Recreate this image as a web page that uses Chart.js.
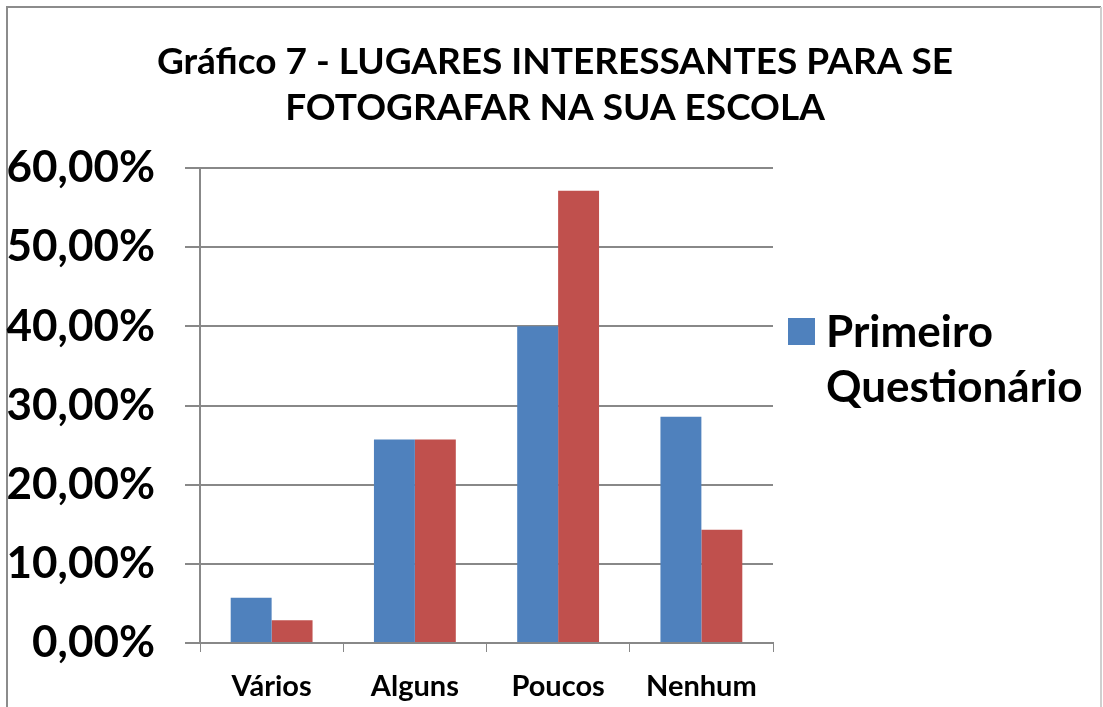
<!DOCTYPE html>
<html>
<head>
<meta charset="utf-8">
<script src="https://cdn.jsdelivr.net/npm/chart.js@4.4.0/dist/chart.umd.min.js"></script>
<style>
  html, body { margin: 0; padding: 0; background: #fff; }
  #wrap { width: 1103px; height: 707px; position: relative; }
</style>
</head>
<body>
<div id="wrap"><canvas id="grafico"></canvas></div>
<script>
// data
const categorias = ['Vários', 'Alguns', 'Poucos', 'Nenhum'];
const primeiroQuestionario = [5.71, 25.71, 40.00, 28.57];
const segundoQuestionario = [2.86, 25.71, 57.14, 14.29];
const tituloLinhas = ['Gráfico 7 - LUGARES INTERESSANTES PARA SE', 'FOTOGRAFAR NA SUA ESCOLA'];
const legendaLinhas = ['Primeiro', 'Questionário'];

const FONT = 'Lato, "Open Sans", sans-serif';

// frame like the spreadsheet chart area (left/top/right only)
const moldura = {
  id: 'moldura',
  beforeDraw(chart) {
    const c = chart.ctx;
    c.save();
    c.strokeStyle = '#8c8c8c';
    c.lineWidth = 2;
    c.beginPath();
    c.moveTo(7, 707);
    c.lineTo(7, 7);
    c.lineTo(1101, 7);
    c.stroke();
    c.strokeStyle = '#cfcfcf';
    c.beginPath();
    c.moveTo(1101, 7);
    c.lineTo(1101, 707);
    c.stroke();
    c.restore();
  }
};

// title centred on the whole chart, legend with wrapped text
const textos = {
  id: 'textos',
  afterDraw(chart) {
    const c = chart.ctx;
    c.save();
    c.fillStyle = '#000';
    c.textAlign = 'center';
    c.textBaseline = 'alphabetic';
    c.font = 'bold 37px ' + FONT;
    c.fillText(tituloLinhas[0], 555, 74);
    c.fillText(tituloLinhas[1], 555, 120);

    c.textAlign = 'left';
    c.fillStyle = '#4F81BD';
    c.fillRect(788, 318, 27, 27);
    c.fillStyle = '#000';
    c.font = 'bold 44px ' + FONT;
    c.fillText(legendaLinhas[0], 826, 347);
    c.fillText(legendaLinhas[1], 826, 402);
    c.restore();
  }
};

new Chart(document.getElementById('grafico'), {
  type: 'bar',
  data: {
    labels: categorias,
    datasets: [
      { label: 'Primeiro Questionário', data: primeiroQuestionario, backgroundColor: '#4F81BD' },
      { label: 'Segundo Questionário', data: segundoQuestionario, backgroundColor: '#C0504D' }
    ]
  },
  options: {
    responsive: true,
    maintainAspectRatio: false,
    animation: false,
    devicePixelRatio: 1,
    categoryPercentage: 2 / 3.5,
    barPercentage: 1,
    layout: { padding: { top: 168, right: 330, left: 3, bottom: 0 } },
    plugins: {
      legend: { display: false },
      tooltip: { enabled: false },
      title: { display: false }
    },
    scales: {
      x: {
        afterFit: s => { s.height = 64; },
        grid: { offset: true, drawOnChartArea: false, drawTicks: true, tickLength: 9, color: '#888' },
        border: { color: '#888', width: 2 },
        ticks: { color: '#000', font: { family: FONT, size: 29, weight: 'bold' }, padding: 17 }
      },
      y: {
        afterFit: s => { s.width = 197; },
        min: 0,
        max: 60,
        ticks: {
          stepSize: 10,
          color: '#000',
          padding: 30,
          font: { family: FONT, size: 44, weight: 'bold' },
          callback: v => v.toFixed(2).replace('.', ',') + '%'
        },
        grid: { color: '#888', lineWidth: 2, tickLength: 15 },
        border: { color: '#888', width: 2 }
      }
    }
  },
  plugins: [moldura, textos]
});
</script>
</body>
</html>
